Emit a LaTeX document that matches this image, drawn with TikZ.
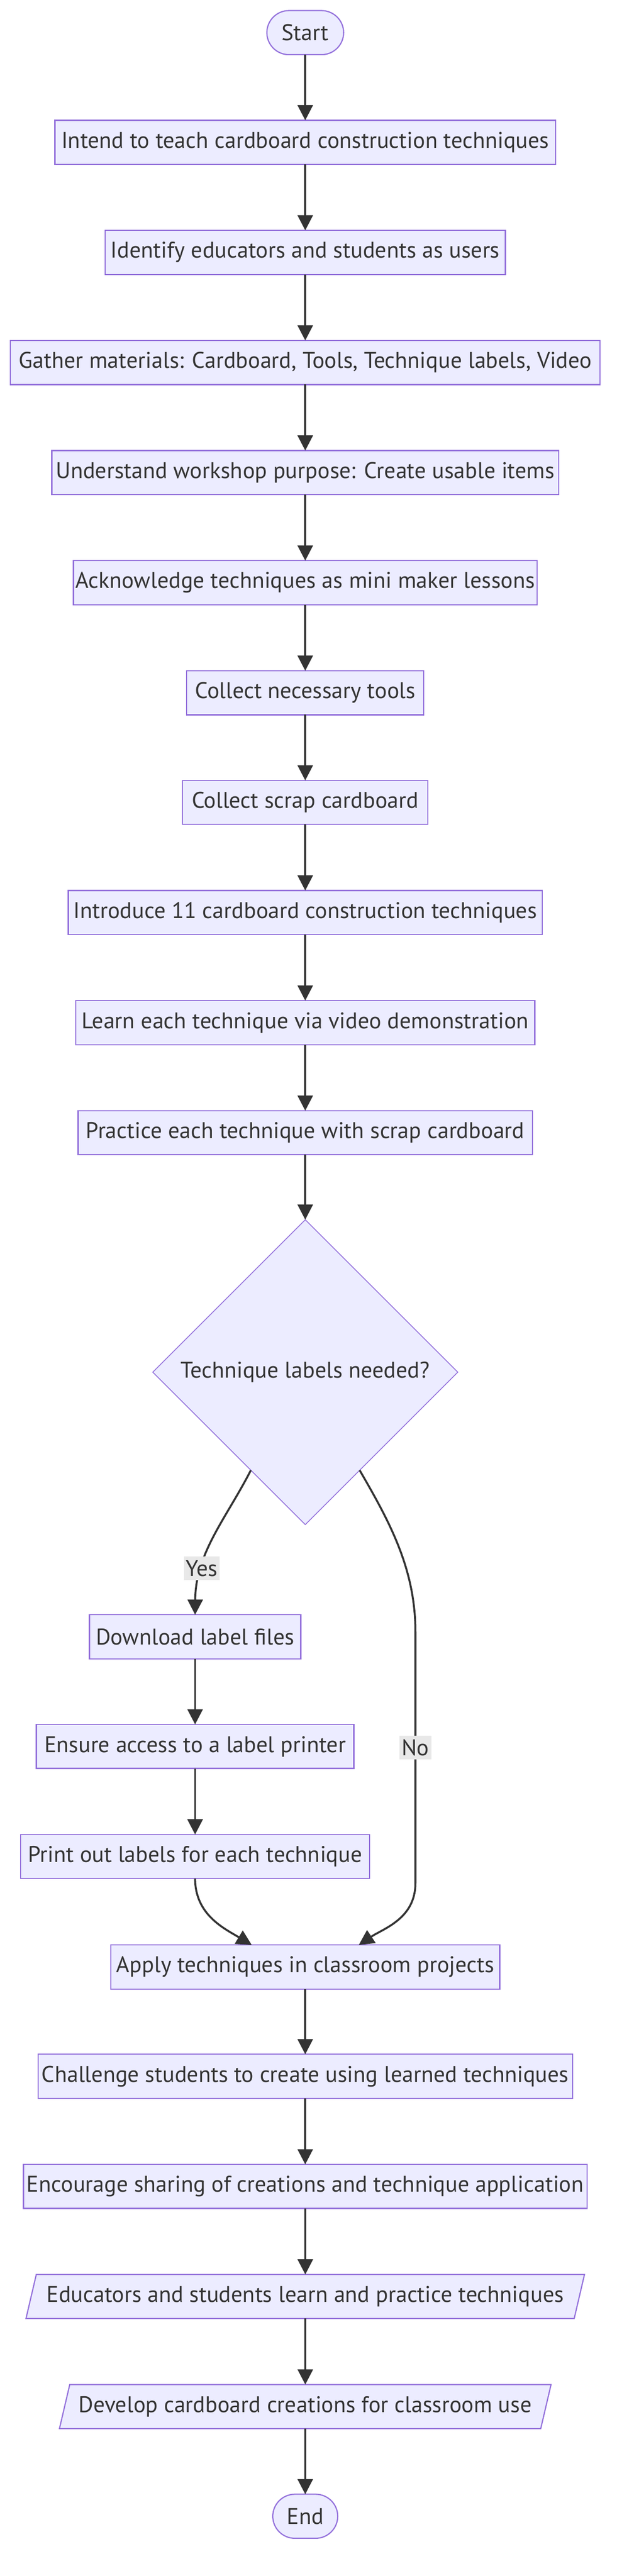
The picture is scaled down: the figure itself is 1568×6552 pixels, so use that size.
\documentclass[tikz,border=0pt]{standalone}
\usepackage{fontspec}
\setmainfont{PT Sans}
\usepackage{xcolor}
\usepackage{tikz}
\usetikzlibrary{shapes,arrows.meta,positioning,calc}
\definecolor{boxfill}{HTML}{ECECFF}
\definecolor{boxline}{HTML}{9370DB}
\definecolor{edgeline}{HTML}{333333}
\definecolor{labelbg}{HTML}{E8E8E8}

\begin{document}
\begin{tikzpicture}[
    x=0.01cm, y=-0.01cm,
    every node/.style={text=edgeline, font=\fontsize{16.4}{19}\selectfont, outer sep=0pt},
    process/.style={draw=boxline, line width=0.85pt, fill=boxfill, rectangle, minimum height=1.12cm, inner sep=0pt},
    terminal/.style={process, rounded corners=0.56cm},
    choice/.style={draw=boxline, line width=0.6pt, fill=boxfill, diamond, aspect=1, minimum width=7.75cm, minimum height=7.75cm, inner sep=0pt},
    io/.style={process, trapezium, trapezium left angle=63.43, trapezium right angle=116.57, trapezium stretches body},
    flow/.style={-{Triangle[width=11pt,length=11pt]}, draw=edgeline, line width=1.4pt},
    answer/.style={fill=labelbg, inner sep=1.5pt, minimum height=0.6cm}
]
    \useasboundingbox (0,0) rectangle (1568,6552);

    % Preparation steps
    \node[terminal, minimum width=1.95cm] (start) at (776,83) {Start};
    \node[process, minimum width=12.72cm] (intend) at (776,362) {Intend to teach cardboard construction techniques};
    \node[process, minimum width=10.17cm] (identify) at (776,642) {Identify educators and students as users};
    \node[process, minimum width=14.98cm] (gather) at (776,922) {Gather materials: Cardboard, Tools, Technique labels, Video};
    \node[process, minimum width=12.88cm] (purpose) at (776,1202) {Understand workshop purpose: Create usable items};
    \node[process, minimum width=11.78cm] (lessons) at (776,1482) {Acknowledge techniques as mini maker lessons};
    \node[process, minimum width=6.02cm] (tools) at (776,1762) {Collect necessary tools};
    \node[process, minimum width=6.23cm] (scrap) at (776,2041) {Collect scrap cardboard};
    \node[process, minimum width=12.04cm] (introduce) at (776,2321) {Introduce 11 cardboard construction techniques};
    \node[process, minimum width=11.66cm] (video) at (776,2601) {Learn each technique via video demonstration};
    \node[process, minimum width=11.54cm] (practice) at (776,2881) {Practice each technique with scrap cardboard};
    \draw[flow] (start) -- (intend);
    \draw[flow] (intend) -- (identify);
    \draw[flow] (identify) -- (gather);
    \draw[flow] (gather) -- (purpose);
    \draw[flow] (purpose) -- (lessons);
    \draw[flow] (lessons) -- (tools);
    \draw[flow] (tools) -- (scrap);
    \draw[flow] (scrap) -- (introduce);
    \draw[flow] (introduce) -- (video);
    \draw[flow] (video) -- (practice);

    % Decision: labels or not
    \node[choice] (needlabels) at (776,3490) {Technique labels needed?};
    \draw[flow] (practice) -- (needlabels);

    % Yes branch: label files and printer
    \node[process, minimum width=5.37cm] (download) at (496,4163) {Download label files};
    \node[process, minimum width=8.07cm] (printer) at (496,4442) {Ensure access to a label printer};
    \node[process, minimum width=8.87cm] (printout) at (496,4722) {Print out labels for each technique};
    \draw[flow] (needlabels.241.6) .. controls (575,3862) and (497,3950) .. node[answer, pos=0.72] {Yes} (download.north);
    \draw[flow] (download) -- (printer);
    \draw[flow] (printer) -- (printout);

    % Classroom steps
    \node[process, minimum width=9.88cm] (apply) at (776,5003) {Apply techniques in classroom projects};
    \draw[flow] (printout.south) .. controls (496,4870) and (570,4905) .. ($(apply.north)+(-136,0)$);
    \draw[flow] (needlabels.299.2) .. controls (990,3870) and (1056,3990) .. (1056,4150)
        -- node[answer, pos=0.46] {No} (1056,4790)
        .. controls (1056,4880) and (975,4905) .. ($(apply.north)+(136,0)$);

    \node[process, minimum width=13.58cm] (challenge) at (776,5281) {Challenge students to create using learned techniques};
    \node[process, minimum width=14.32cm] (share) at (776,5561) {Encourage sharing of creations and technique application};
    \node[io, minimum width=14.19cm] (learners) at (776,5841) {Educators and students learn and practice techniques};
    \node[io, minimum width=12.49cm] (creations) at (776,6121) {Develop cardboard creations for classroom use};
    \node[terminal, minimum width=1.65cm] (end) at (776,6400) {End};
    \draw[flow] (apply) -- (challenge);
    \draw[flow] (challenge) -- (share);
    \draw[flow] (share) -- (learners);
    \draw[flow] (learners) -- (creations);
    \draw[flow] (creations) -- (end);

\end{tikzpicture}
\end{document}
